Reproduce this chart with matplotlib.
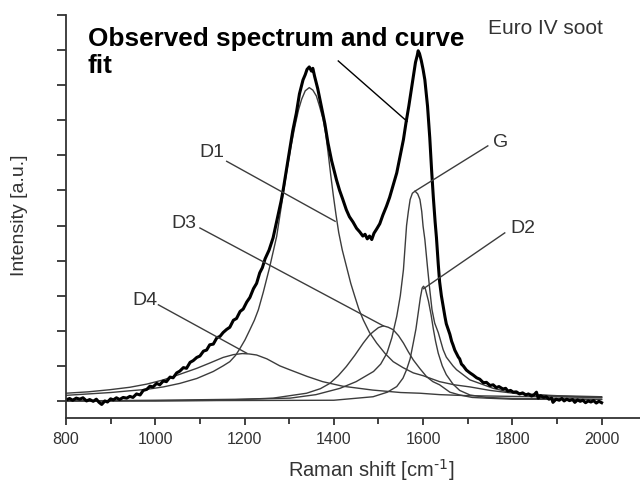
import matplotlib.pyplot as plt

plt.rcParams['font.family'] = ['Liberation Sans', 'DejaVu Sans']

# observed Raman spectrum (shift in cm-1, intensity in a.u.)
observed = [(800, 0.03), (808, 0.07), (815, 0.02), (823, 0.08), (831, 0.05), (838, 0.09),
            (846, 0.0), (853, 0.04), (861, -0.01), (868, 0.05), (874, -0.04), (880, -0.1),
            (887, 0.0), (893, -0.03), (900, 0.06), (906, 0.03), (913, 0.09), (920, 0.04),
            (928, 0.1), (936, 0.08), (943, 0.13), (950, 0.1), (958, 0.2), (966, 0.17),
            (973, 0.3), (981, 0.33), (988, 0.42), (995, 0.4), (1003, 0.5), (1010, 0.46),
            (1018, 0.57), (1025, 0.55), (1033, 0.68), (1040, 0.66), (1048, 0.8), (1055, 0.85),
            (1063, 0.95), (1070, 0.93), (1078, 1.1), (1085, 1.15), (1093, 1.24), (1100, 1.28),
            (1108, 1.42), (1115, 1.45), (1122, 1.6), (1130, 1.62), (1138, 1.8), (1145, 1.84),
            (1152, 1.95), (1160, 2.04), (1167, 2.1), (1175, 2.3), (1182, 2.35), (1190, 2.55),
            (1197, 2.62), (1205, 2.82), (1212, 2.95), (1220, 3.2), (1227, 3.35), (1234, 3.65),
            (1240, 3.8), (1246, 4.05), (1255, 4.3), (1264, 4.65), (1270, 5.0), (1276, 5.35),
            (1282, 5.7), (1287, 6.05), (1294, 6.6), (1301, 7.15), (1308, 7.7), (1316, 8.2),
            (1323, 8.75), (1331, 9.15), (1336, 9.3), (1340, 9.45), (1345, 9.52), (1350, 9.4),
            (1353, 9.48), (1357, 9.25), (1364, 8.9), (1372, 8.4), (1380, 7.9), (1387, 7.35),
            (1395, 6.85), (1400, 6.6), (1406, 6.3), (1413, 6.0), (1420, 5.75), (1428, 5.45),
            (1435, 5.25), (1443, 5.1), (1451, 4.92), (1458, 4.82), (1465, 4.7), (1470, 4.75),
            (1475, 4.62), (1480, 4.7), (1485, 4.6), (1490, 4.78), (1496, 4.9), (1503, 5.05),
            (1510, 5.3), (1518, 5.55), (1525, 5.8), (1533, 6.15), (1541, 6.5), (1549, 7.0),
            (1556, 7.45), (1562, 7.95), (1568, 8.4), (1574, 8.9), (1579, 9.3), (1583, 9.65),
            (1587, 9.85), (1589, 9.98), (1592, 9.9), (1596, 9.7), (1600, 9.45), (1604, 9.15),
            (1610, 8.4), (1615, 7.5), (1619, 6.6), (1623, 5.8), (1627, 5.1), (1630, 4.65),
            (1634, 3.9), (1637, 3.4), (1641, 3.0), (1645, 2.7), (1649, 2.4), (1652, 2.2),
            (1656, 2.05), (1660, 1.9), (1664, 1.7), (1667, 1.6), (1671, 1.45), (1675, 1.35),
            (1679, 1.25), (1682, 1.2), (1686, 1.05), (1690, 1.0), (1697, 0.88), (1705, 0.8),
            (1712, 0.74), (1720, 0.66), (1727, 0.62), (1735, 0.52), (1742, 0.53), (1750, 0.44),
            (1757, 0.46), (1764, 0.38), (1770, 0.41), (1779, 0.34), (1785, 0.36), (1790, 0.28),
            (1796, 0.3), (1802, 0.25), (1809, 0.26), (1816, 0.2), (1823, 0.23), (1830, 0.17),
            (1836, 0.2), (1843, 0.14), (1849, 0.18), (1854, 0.25), (1858, 0.08), (1863, 0.15),
            (1870, 0.1), (1876, 0.12), (1882, 0.05), (1888, 0.08), (1891, -0.04), (1898, 0.05),
            (1905, 0.02), (1911, 0.07), (1916, 0.0), (1922, 0.05), (1928, 0.01), (1935, 0.04),
            (1940, -0.04), (1946, 0.03), (1952, -0.01), (1958, 0.02), (1964, -0.05), (1970, 0.0),
            (1976, -0.03), (1982, 0.01), (1988, -0.06), (1994, -0.01), (2000, -0.05)]

# fitted bands
d1 = [(800, 0.16), (850, 0.2), (900, 0.24), (943, 0.29), (981, 0.33), (1018, 0.4),
      (1055, 0.5), (1093, 0.64), (1130, 0.84), (1152, 1.0), (1167, 1.12), (1180, 1.3),
      (1190, 1.5), (1201, 1.74), (1212, 2.03), (1222, 2.3), (1231, 2.6), (1242, 3.1),
      (1256, 3.8), (1272, 4.69), (1283, 5.6), (1294, 6.5), (1304, 7.25), (1313, 7.84),
      (1321, 8.3), (1328, 8.6), (1336, 8.84), (1345, 8.93), (1353, 8.86), (1361, 8.69),
      (1368, 8.4), (1376, 8.03), (1382, 7.6), (1387, 7.1), (1393, 6.45), (1399, 5.85),
      (1405, 5.3), (1411, 4.8), (1419, 4.3), (1428, 3.85), (1438, 3.35), (1447, 2.98),
      (1456, 2.62), (1466, 2.31), (1480, 1.95), (1496, 1.65), (1515, 1.35), (1533, 1.12),
      (1555, 0.95), (1578, 0.8), (1600, 0.72), (1637, 0.55), (1670, 0.46), (1705, 0.4),
      (1750, 0.3), (1816, 0.2), (1900, 0.15), (2000, 0.12)]
d2 = [(800, 0.0), (1400, 0.02), (1488, 0.12), (1520, 0.25), (1541, 0.41), (1555, 0.65),
      (1563, 0.89), (1571, 1.2), (1578, 1.65), (1584, 2.05), (1589, 2.5), (1594, 2.95),
      (1598, 3.22), (1601, 3.27), (1605, 3.2), (1608, 3.05), (1612, 2.85), (1618, 2.45),
      (1623, 2.05), (1628, 1.7), (1634, 1.36), (1643, 1.0), (1652, 0.75), (1667, 0.48),
      (1682, 0.3), (1705, 0.17), (1742, 0.1), (1800, 0.07), (2000, 0.05)]
d3 = [(800, 0.0), (1000, 0.0), (1150, 0.02), (1264, 0.08), (1339, 0.22), (1370, 0.35),
      (1391, 0.5), (1410, 0.72), (1428, 0.98), (1447, 1.3), (1466, 1.65), (1480, 1.88),
      (1489, 1.98), (1500, 2.09), (1511, 2.14), (1522, 2.1), (1533, 2.03), (1545, 1.86),
      (1556, 1.65), (1567, 1.4), (1578, 1.17), (1593, 0.92), (1608, 0.69), (1622, 0.55),
      (1637, 0.46), (1660, 0.25), (1682, 0.17), (1710, 0.1), (1742, 0.08), (1800, 0.05),
      (2000, 0.04)]
d4 = [(800, 0.22), (850, 0.26), (898, 0.32), (943, 0.39), (981, 0.48), (1018, 0.6),
      (1055, 0.76), (1093, 0.93), (1122, 1.08), (1152, 1.24), (1175, 1.32), (1195, 1.35),
      (1210, 1.34), (1227, 1.31), (1250, 1.2), (1279, 1.0), (1301, 0.89), (1340, 0.7),
      (1375, 0.55), (1420, 0.42), (1487, 0.31), (1550, 0.24), (1593, 0.22), (1637, 0.18),
      (1700, 0.15), (1800, 0.13), (2000, 0.1)]
g = [(800, 0.0), (1000, 0.02), (1200, 0.05), (1302, 0.08), (1360, 0.18), (1414, 0.36),
     (1450, 0.55), (1489, 0.84), (1505, 1.05), (1519, 1.36), (1530, 1.8), (1541, 2.41),
     (1549, 3.0), (1556, 3.74), (1563, 5.0), (1567, 5.4), (1571, 5.74), (1576, 5.92),
     (1582, 5.98), (1588, 5.9), (1593, 5.74), (1597, 5.4), (1600, 4.98), (1604, 4.6),
     (1610, 3.8), (1615, 3.17), (1620, 2.6), (1626, 2.22), (1634, 1.95), (1645, 1.46),
     (1652, 1.25), (1667, 1.0), (1675, 0.89), (1705, 0.6), (1727, 0.5), (1757, 0.36),
     (1787, 0.27), (1850, 0.18), (1891, 0.14), (2000, 0.1)]

# band labels: text position and leader line end points
band_labels = ['D1', 'D3', 'D4', 'G', 'D2']
label_pos = [(1098, 6.94), (1037, 4.94), (948, 2.74), (1756, 7.23), (1795, 4.8)]
leaders = [((1160, 6.83), (1403, 5.12)), ((1100, 4.93), (1511, 2.14)),
           ((1007, 2.74), (1205, 1.36)), ((1745, 7.27), (1582, 5.98)),
           ((1783, 4.79), (1601, 3.2))]
obs_leader = ((1410, 9.69), (1564, 7.97))

xticks = [800, 1000, 1200, 1400, 1600, 1800, 2000]

fig = plt.figure(figsize=(6.4, 4.83), dpi=100)
ax = fig.add_axes([66/640, 65/483, 574/640, 403/483])

grey = '#3c3c3c'
for band in [d4, d1, d3, g, d2]:
    ax.plot([p[0] for p in band], [p[1] for p in band], color=grey, lw=1.0)
ax.plot([p[0] for p in observed], [p[1] for p in observed], color='black', lw=2.2)

for name, pos, (a, b) in zip(band_labels, label_pos, leaders):
    ax.text(pos[0], pos[1], name, fontsize=14, color='#333333', va='baseline', ha='left')
    ax.plot([a[0], b[0]], [a[1], b[1]], color=grey, lw=1.0)
ax.plot([obs_leader[0][0], obs_leader[1][0]], [obs_leader[0][1], obs_leader[1][1]],
        color='black', lw=1.0)

fig.text(88/640, 1 - 73/483, 'Observed spectrum and curve\nfit', fontsize=18.8,
         fontweight='bold', va='baseline', ha='left', linespacing=1.15)
fig.text(488/640, 1 - 34/483, 'Euro IV soot', fontsize=15, color='#333333',
         va='baseline', ha='left')

ax.set_xlim(800, 2086)
ax.set_ylim(-0.486, 11)
ax.set_xticks(xticks)
ax.set_xticks(range(900, 2001, 200), minor=True)
ax.set_yticks(range(0, 12))
ax.set_yticklabels([])
ax.tick_params(axis='x', direction='out', length=5, width=1.3, color='#333333',
               labelsize=11.5, labelcolor='#333333', pad=5)
ax.tick_params(axis='x', which='minor', direction='out', length=4, width=1.3, color='#333333')
ax.tick_params(axis='y', direction='out', length=6.5, width=1.3, color='#333333')
for side in ['top', 'right']:
    ax.spines[side].set_visible(False)
for side in ['left', 'bottom']:
    ax.spines[side].set_linewidth(1.3)
    ax.spines[side].set_color('#333333')

fig.text(371/640, 1 - 477/483, r'Raman shift [cm$^{\text{-}1}$]', fontsize=14.5,
         color='#333333', ha='center', va='baseline')
fig.text(20/640, 1 - 215/483, 'Intensity [a.u.]', fontsize=14, color='#333333',
         rotation=90, ha='center', va='center')

fig.savefig('out.png', dpi=100)
